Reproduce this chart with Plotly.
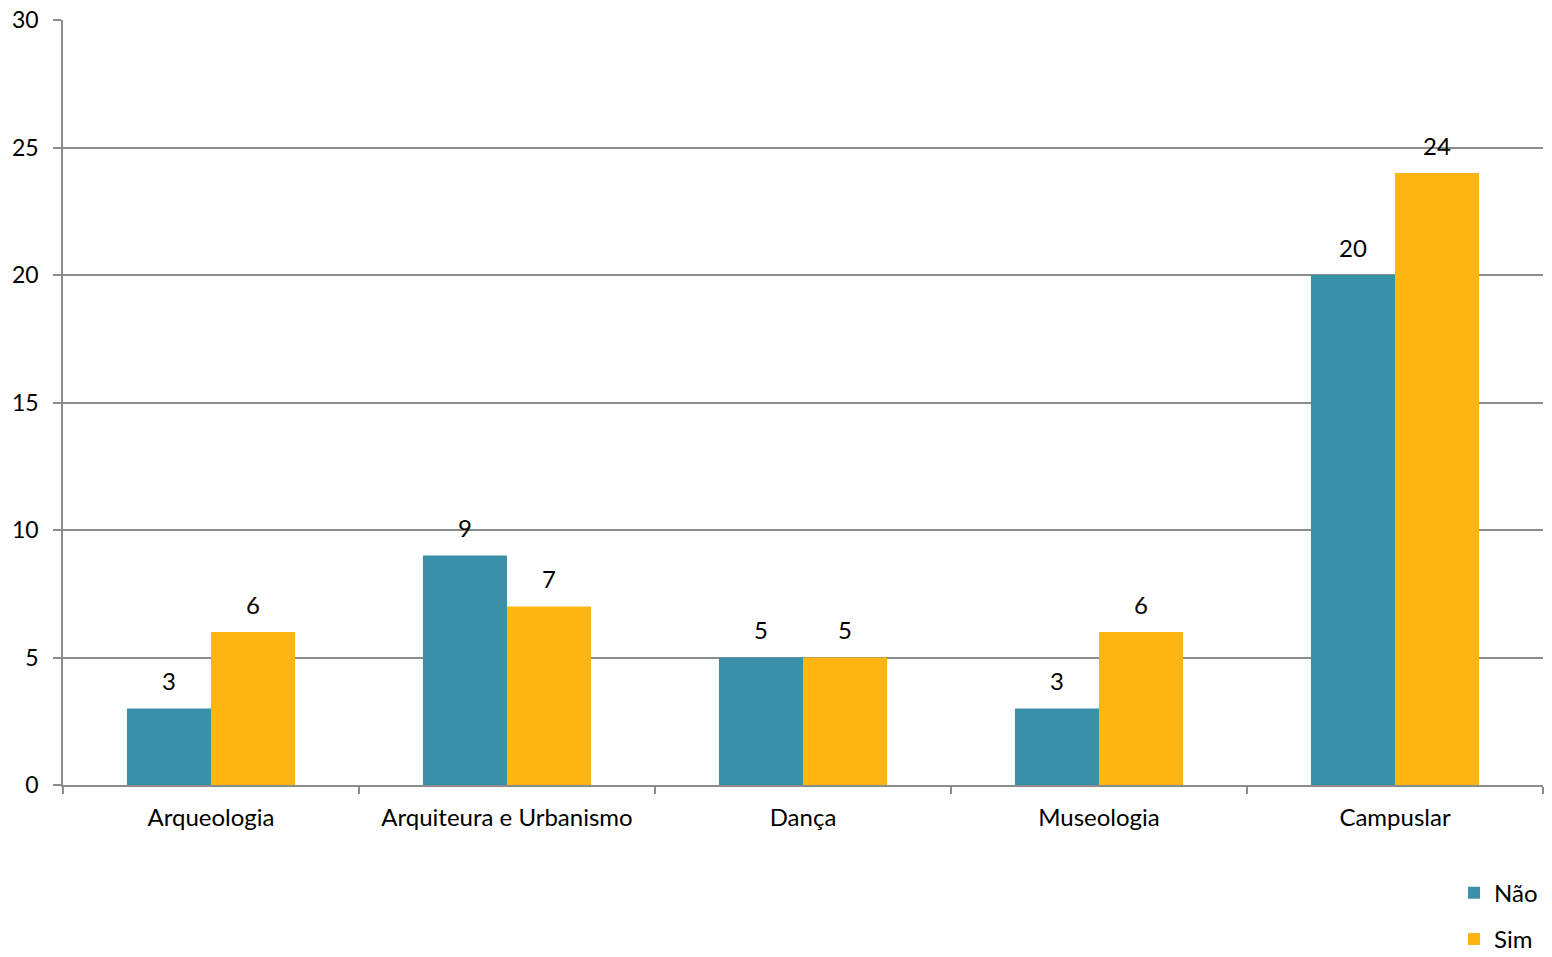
import plotly.graph_objects as go

categories = ["Arqueologia", "Arquiteura e Urbanismo", "Dança", "Museologia", "Campuslar"]
nao = [3, 9, 5, 3, 20]
sim = [6, 7, 5, 6, 24]
y_ticks = [0, 5, 10, 15, 20, 25, 30]

FONT = "Lato, 'Open Sans', sans-serif"
TEAL = "#3A90A8"
GOLD = "#FDB50F"
GRID = "#8c8c8c"

fig = go.Figure()
fig.add_trace(go.Bar(x=categories, y=nao, name="Não", marker=dict(color=TEAL, line=dict(width=0)),
                     legendgroup="a"))
fig.add_trace(go.Bar(x=categories, y=sim, name="Sim", marker=dict(color=GOLD, line=dict(width=0)),
                     legendgroup="b"))

# value labels above bars
for vals, xs in ((nao, -42), (sim, 42)):
    for c, v in zip(categories, vals):
        fig.add_annotation(x=c, y=v, xref="x", yref="y", text=str(v), showarrow=False,
                           xshift=xs, yshift=28, yanchor="middle",
                           font=dict(size=24, color="#000", family=FONT))

fig.update_layout(
    width=1552, height=957,
    margin=dict(l=63, r=9, t=20, b=172, autoexpand=False),
    paper_bgcolor="white", plot_bgcolor="white",
    barmode="group", bargap=0.432, bargroupgap=0,
    font=dict(family=FONT, size=24, color="#000"),
    showlegend=True,
    legend=dict(x=1.0, xanchor="right", y=-0.112, yanchor="top", orientation="v",
                traceorder="grouped", tracegroupgap=12, font=dict(size=24),
                itemwidth=30, tracegroupgap_=None) if False else
           dict(x=1.0, xanchor="right", y=-0.112, yanchor="top", orientation="v",
                traceorder="grouped", tracegroupgap=12, font=dict(size=24),
                itemwidth=30),
    xaxis=dict(showline=True, linecolor=GRID, linewidth=1.5, ticks="outside",
               tickson="boundaries", ticklen=7, tickcolor=GRID, tickwidth=1.5,
               tickfont=dict(size=24), showgrid=False, automargin=False,
               ticklabelstandoff=10),
    yaxis=dict(range=[0, 30], tickvals=y_ticks, showline=True, linecolor=GRID, linewidth=1.5,
               ticks="outside", ticklen=8, tickcolor=GRID, tickwidth=1.5,
               showgrid=True, gridcolor=GRID, gridwidth=1.5, zeroline=False,
               tickfont=dict(size=23), ticklabelstandoff=10, automargin=False),
)
fig.write_html("out.html", config={"displayModeBar": False},
               post_script="document.body.style.margin='0';")
